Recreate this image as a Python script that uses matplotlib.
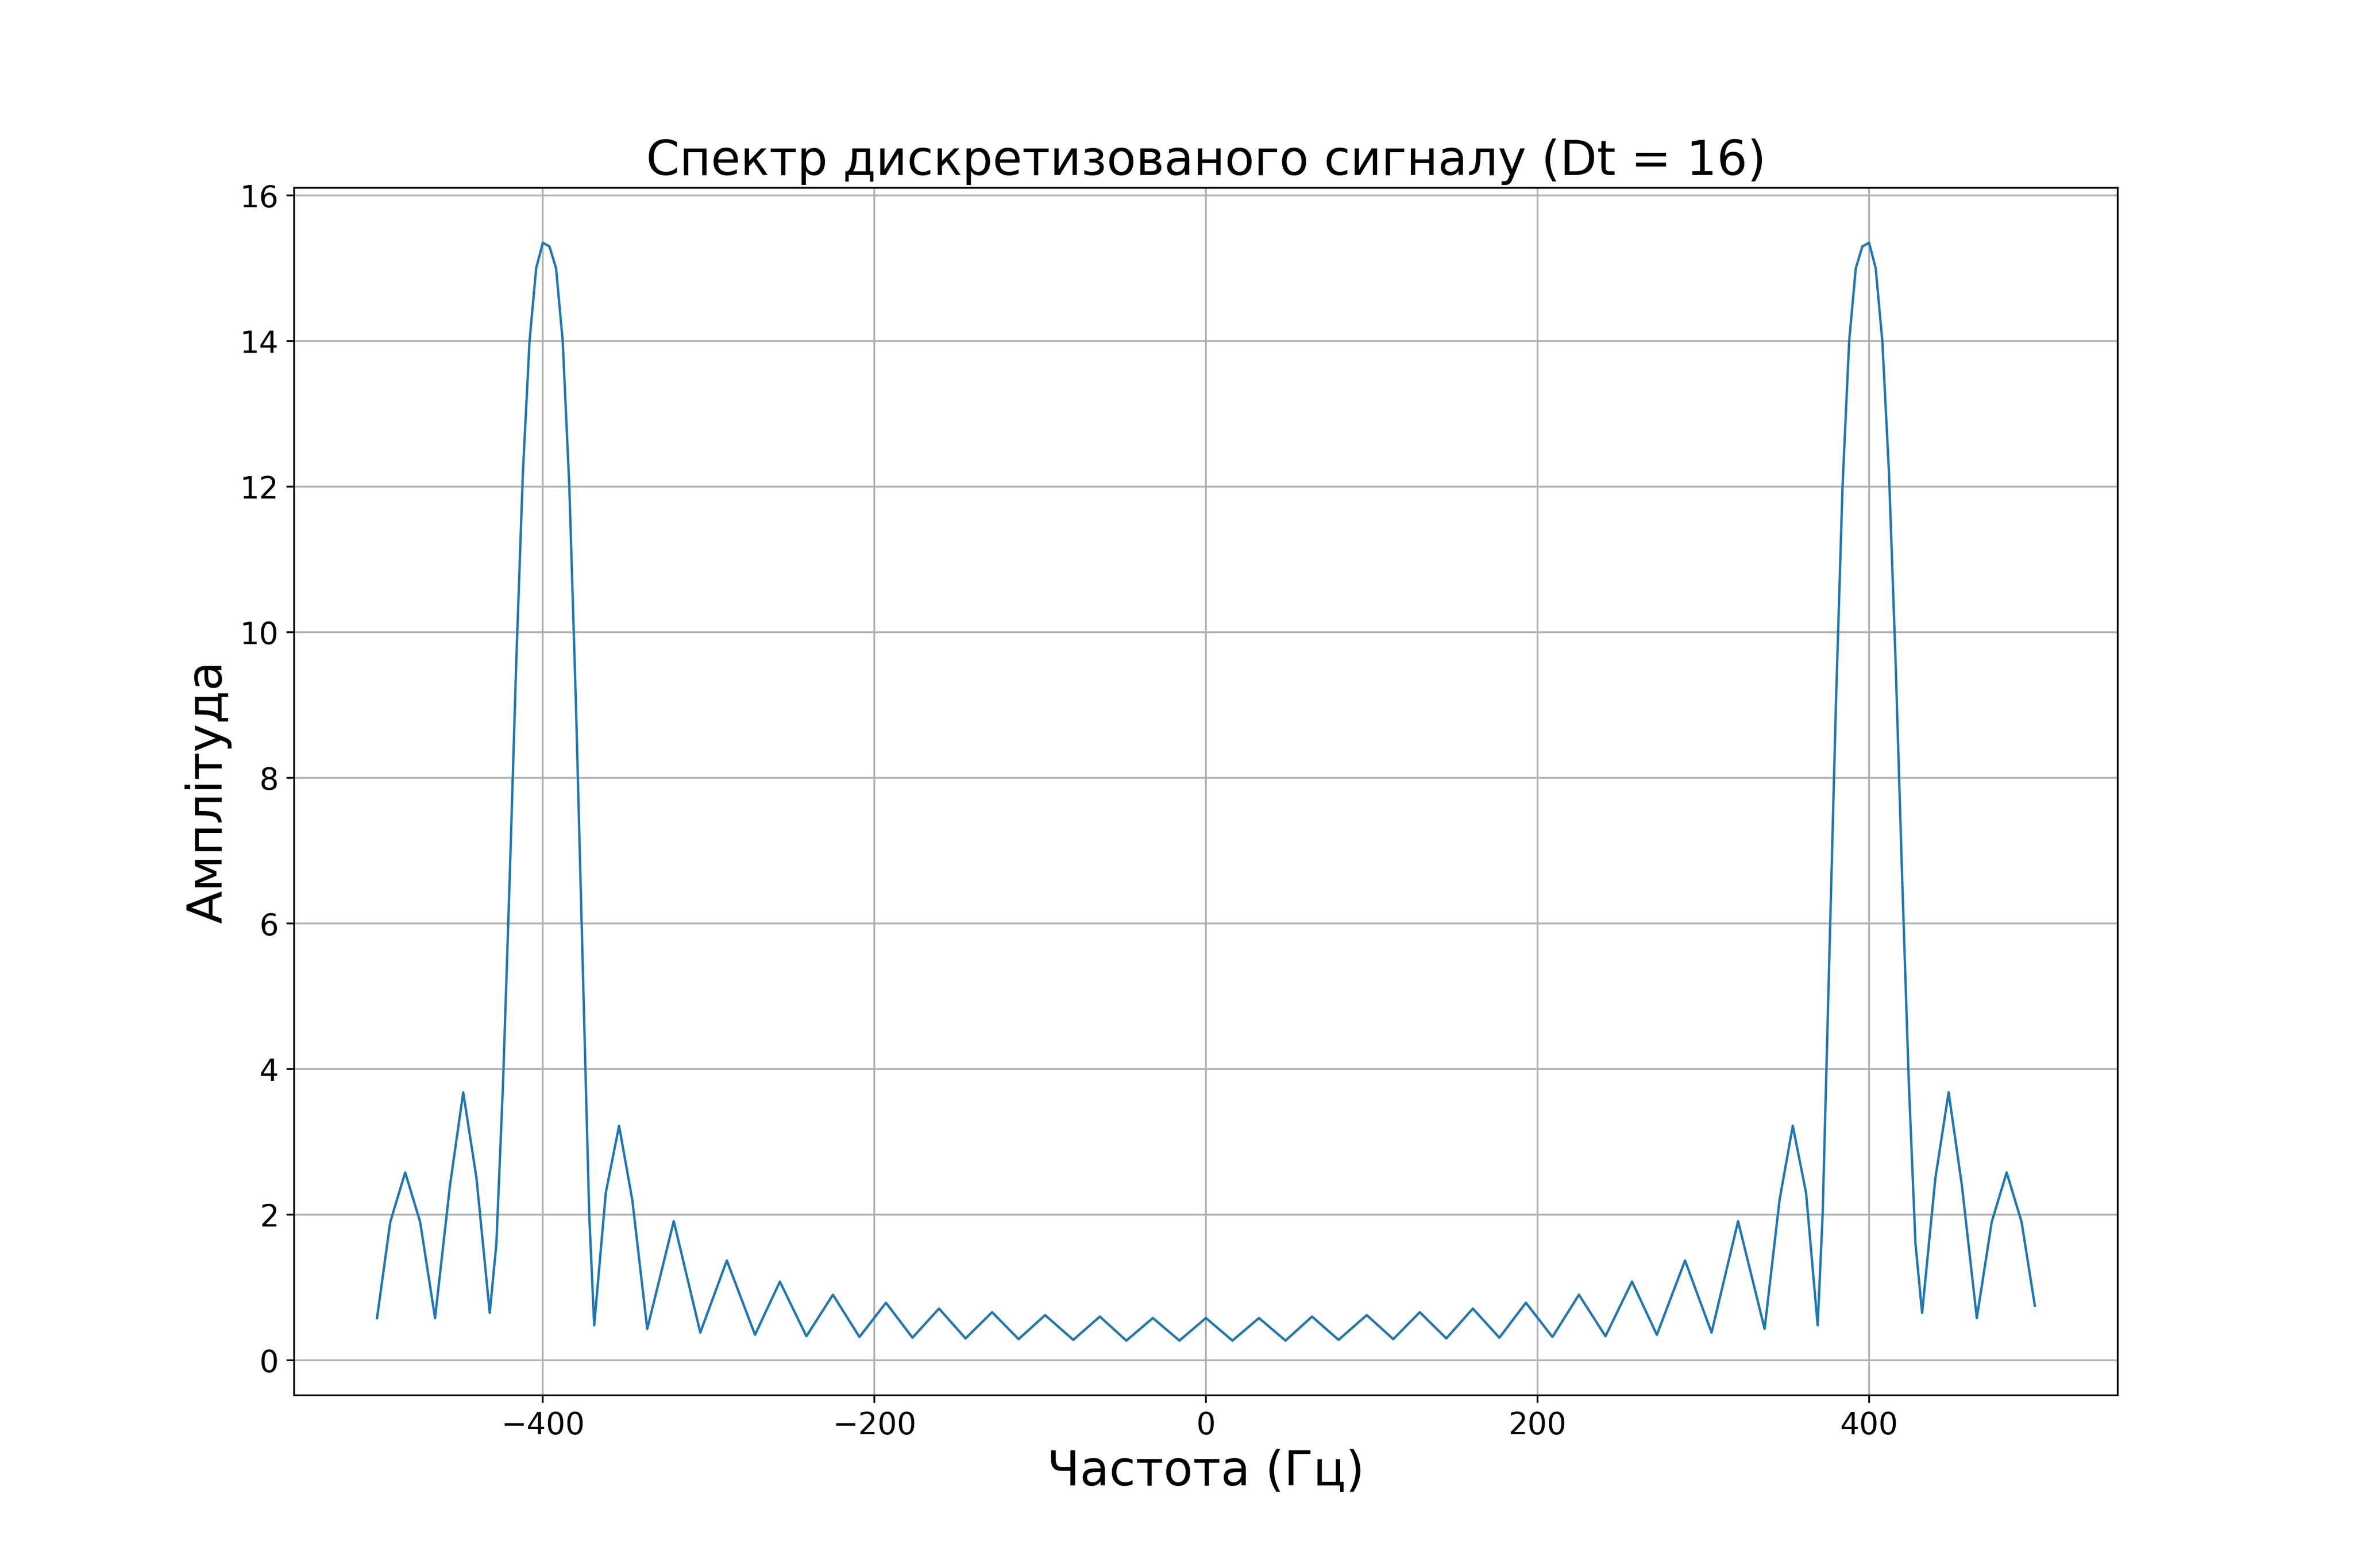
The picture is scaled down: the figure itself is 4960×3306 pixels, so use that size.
import numpy as np
import matplotlib.pyplot as plt

# right half of the spectrum, mirrored to the left
freq_half = [0, 16, 32, 48, 64, 80, 97, 113, 129, 145, 161, 177, 193, 209, 225,
             241, 257, 272, 289, 305, 321, 337, 346, 354, 362, 369,
             372, 376, 380, 384, 388, 392, 396, 400, 404, 408, 412, 416, 420, 424, 428, 432,
             440, 448, 456, 465, 474, 483, 492, 500]
amp_half = [0.58, 0.27, 0.58, 0.27, 0.60, 0.28, 0.62, 0.29, 0.66, 0.30, 0.71, 0.31, 0.79, 0.32, 0.90,
            0.33, 1.08, 0.35, 1.37, 0.38, 1.91, 0.43, 2.2, 3.22, 2.3, 0.48,
            2.0, 5.5, 9.0, 12.0, 14.0, 15.0, 15.3, 15.35, 15.0, 14.0, 12.2, 9.6, 6.6, 3.8, 1.6, 0.65,
            2.5, 3.68, 2.4, 0.58, 1.9, 2.58, 1.9, 0.75]

freq = np.concatenate([-np.array(freq_half[:0:-1]), freq_half])
amp = np.concatenate([np.array(amp_half[:0:-1]), amp_half])
amp[0] = 0.58

fig = plt.figure(figsize=(15, 10), dpi=330.67)
plt.plot(freq, amp, color='tab:blue', linewidth=1.1)
plt.title('Спектр дискретизованого сигналу (Dt = 16)', fontsize=22)
plt.xlabel('Частота (Гц)', fontsize=22)
plt.ylabel('Амплітуда', fontsize=22)
plt.xticks(fontsize=14)
plt.yticks(fontsize=14)
plt.grid(True)
plt.savefig('out.png', dpi=330.67)
